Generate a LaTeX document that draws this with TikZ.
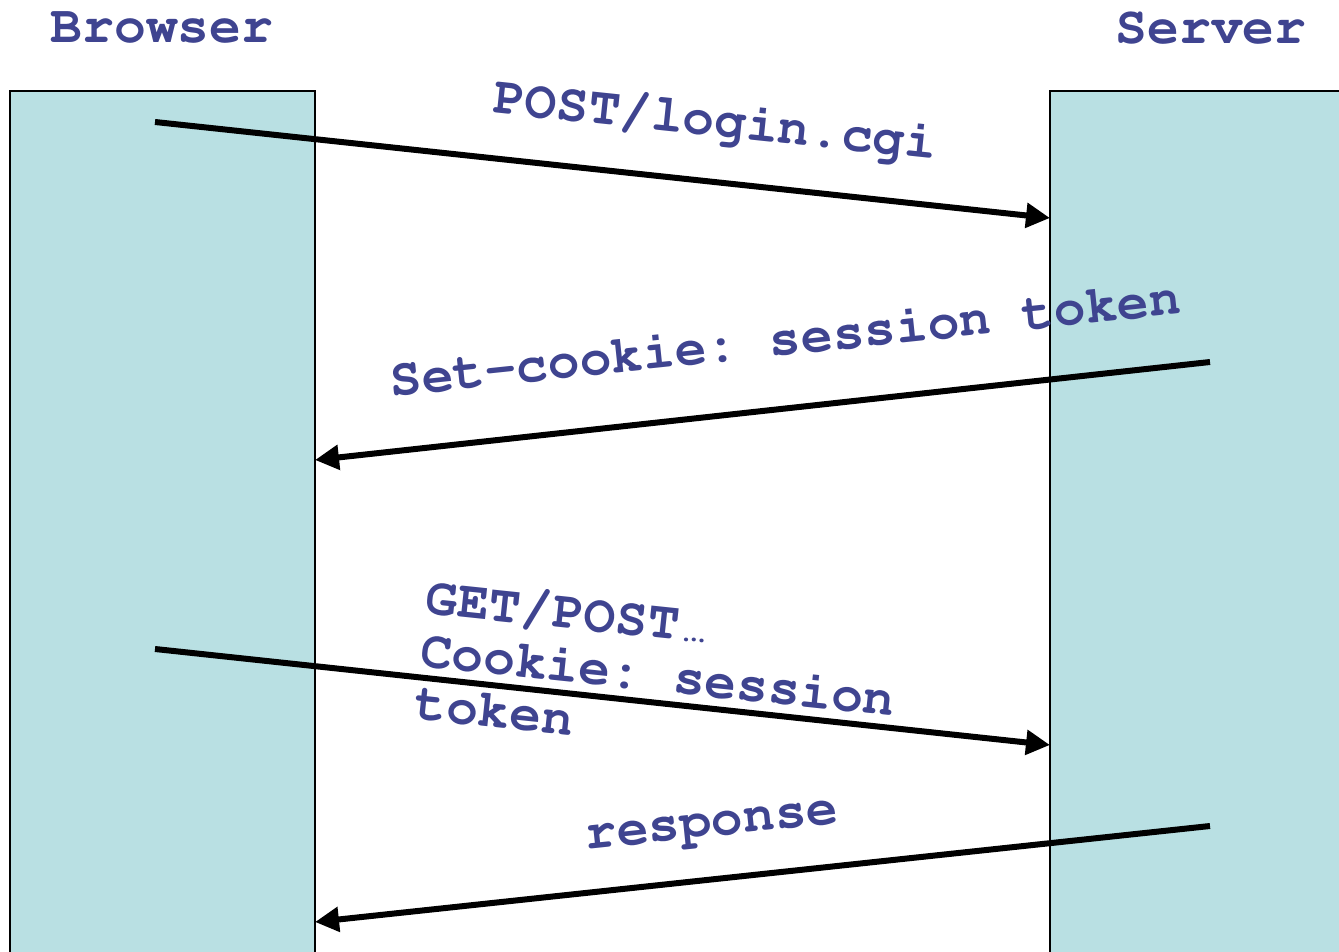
\documentclass[tikz,border=0pt]{standalone}
\usepackage[T1]{fontenc}
\usepackage{courier}
\usetikzlibrary{arrows.meta,positioning}
\frenchspacing

\definecolor{lanefill}{HTML}{B9E0E3}
\definecolor{ink}{HTML}{3F4490}
% narrow ellipsis, one character wide
\newcommand{\shortdots}{{\fontsize{28}{28}\selectfont.\kern-9pt.\kern-9pt.}}

\begin{document}
\begin{tikzpicture}[x=1pt,y=-1pt,
    lane/.style={draw=black, line width=2.5pt, fill=lanefill},
    label/.style={text=ink, font=\fontsize{53}{53}\selectfont\ttfamily\bfseries, inner sep=0pt},
    msg/.style={line width=6pt, -{Triangle[length=24pt,width=24pt]}}]
    \useasboundingbox (0,0) rectangle (1339,952);
    \clip (0,0) rectangle (1339,952);

    % Browser and server columns
    \draw[lane] (10,91) rectangle (315,1010);
    \draw[lane] (1050,91) rectangle (1400,1010);
    \node[label] (browser) at (162,28) {Browser};
    \node[label] (server) at (1211,28) {Server};

    % message end points
    \coordinate (login-a) at (155,122);
    \coordinate (login-b) at (1050,218);
    \coordinate (cookie-a) at (1210,362);
    \coordinate (cookie-b) at (315,460);
    \coordinate (get-a) at (155,649);
    \coordinate (get-b) at (1050,745);
    \coordinate (resp-a) at (1210,826);
    \coordinate (resp-b) at (315,922);

    \draw[msg] (login-a) -- (login-b);
    \draw[msg] (cookie-a) -- (cookie-b);
    \draw[msg] (get-a) -- (get-b);
    \draw[msg] (resp-a) -- (resp-b);

    % Message labels
    \node[label, rotate=-6] (login) at (715,122) {POST/login.cgi};
    \node[label, rotate=6] (setcookie) at (785,338) {Set-cookie: session token};
    \node[label, rotate=-6, anchor=north west, align=left] (request) at (428,580)
        {GET/POST\shortdots\\Cookie: session\\token};
    \node[label, rotate=6] (response) at (712,828) {response};
\end{tikzpicture}
\end{document}
